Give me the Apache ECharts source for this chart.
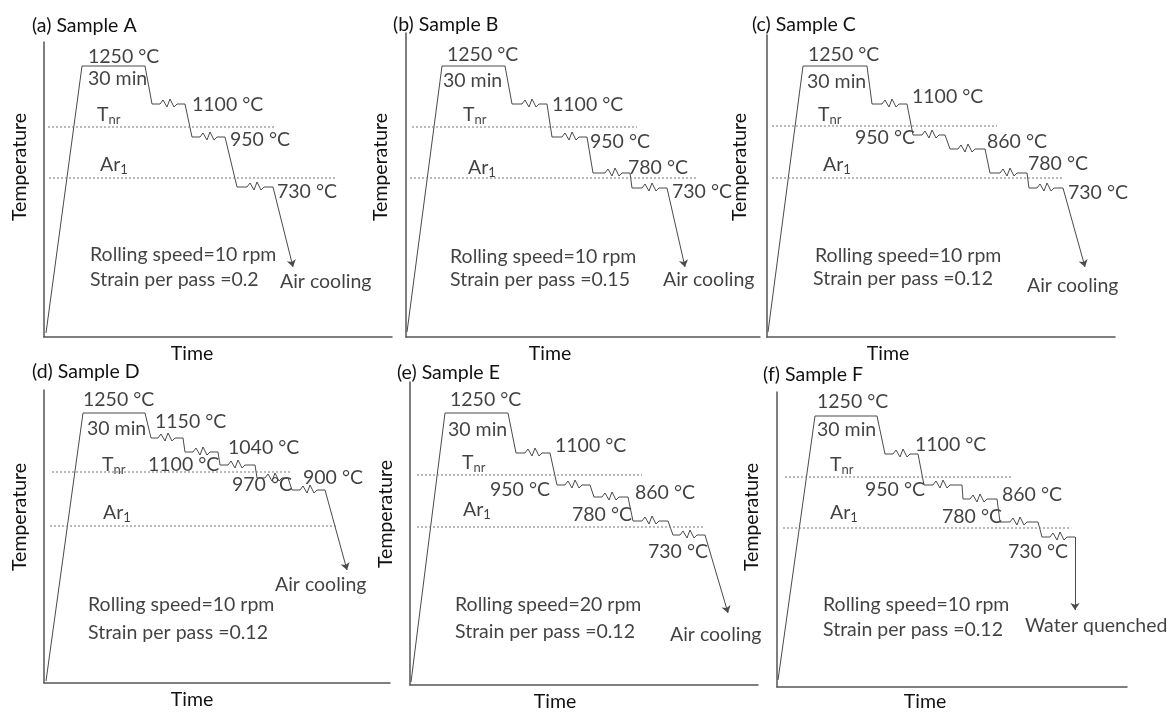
<!DOCTYPE html>
<html>
<head>
<meta charset="utf-8">
<script src="https://cdn.jsdelivr.net/npm/echarts@6/dist/echarts.min.js"></script>
<style>html,body{margin:0;padding:0;background:#fff}#chart{width:1170px;height:713px}</style>
</head>
<body>
<div id="chart"></div>
<script>
// ---------------- DATA (schematic time / temperature-level units) ----------------
const titles = ['(a) Sample A', '(b) Sample B', '(c) Sample C', '(d) Sample D', '(e) Sample E', '(f) Sample F'];

// Panel A
const stepsA  = [[2,4],[38,271],[101,271],[108,233],[141,233],[148,200],[181,200],[193,150],[229,150]];
const passesA = [[116,233],[156,200],[203,150]];
const coolA   = [[229,150],[249,70]];
const tnrA    = [[4,210],[231,210]];
const ar1A    = [[5,159],[293,159]];
const notesA  = [['1250 °C',44,280],['30 min',44,258],['1100 °C',148,232],['T{s|nr}',53,222],['950 °C',186,197],
                 ['Ar{s|1}',56,172],['730 °C',233,145],['Rolling speed=10 rpm',46,82],['Strain per pass =0.2',46,57],['Air cooling',236,55]];

// Panel B
const stepsB  = [[1,5],[36,271],[99,271],[106,233],[141,233],[146,200],[181,200],[187,164],[224,164],[226,149],[261,149]];
const passesB = [[116,233],[156,200],[199,164],[236,149]];
const coolB   = [[261,149],[279,70]];
const tnrB    = [[6,210],[231,210]];
const ar1B    = [[4,159],[292,159]];
const notesB  = [['1250 °C',41,282],['30 min',37,256],['1100 °C',146,232],['T{s|nr}',57,222],['950 °C',184,195],
                 ['Ar{s|1}',62,169],['780 °C',222,169],['730 °C',266,145],['Rolling speed=10 rpm',44,80],['Strain per pass =0.15',44,57],['Air cooling',257,57]];

// Panel C
const stepsC  = [[1,5],[36,271],[100,271],[105,233],[140,233],[146,202],[178,202],[183,188],[218,188],[223,164],[260,164],[262,149],[296,149]];
const passesC = [[115,233],[155,202],[191,188],[233,164],[270,149]];
const coolC   = [[296,149],[318,70]];
const tnrC    = [[5,211],[230,211]];
const ar1C    = [[5,159],[296,159]];
const notesC  = [['1250 °C',41,282],['30 min',40,255],['1100 °C',145,240],['T{s|nr}',51,222],['950 °C',88,199],['860 °C',220,195],
                 ['Ar{s|1}',56,172],['780 °C',261,173],['730 °C',301,144],['Rolling speed=10 rpm',48,81],['Strain per pass =0.12',46,58],['Air cooling',260,51]];

// Panel D
const stepsD  = [[2,2],[39,270],[101,270],[107,245],[139,245],[141,231],[174,231],[176,218],[211,218],[213,205],[244,205],[248,193],[281,193]];
const passesD = [[114,245],[149,231],[184,218],[221,205],[256,193]];
const coolD   = [[281,193],[303,113]];
const tnrD    = [[8,211],[246,211]];
const ar1D    = [[6,157],[294,157]];
const notesD  = [['1250 °C',39,283],['30 min',43,254],['1150 °C',111,261],['1100 °C',104,218],['1040 °C',184,235],['970 °C',188,198],
                 ['900 °C',259,205],['T{s|nr}',58,218],['Ar{s|1}',59,170],['Air cooling',231,98],['Rolling speed=10 rpm',44,78],['Strain per pass =0.12',44,50]];

// Panel E
const stepsE  = [[1,3],[35,272],[98,272],[106,232],[140,232],[147,200],[180,200],[184,188],[218,188],[223,164],[258,164],[263,150],[295,150]];
const passesE = [[115,232],[155,200],[192,188],[232,164],[270,150]];
const coolE   = [[295,150],[318,72]];
const tnrE    = [[7,210],[232,210]];
const ar1E    = [[7,158],[293,158]];
const notesE  = [['1250 °C',40,285],['30 min',38,255],['1100 °C',145,239],['T{s|nr}',52,222],['950 °C',80,195],['860 °C',225,192],
                 ['Ar{s|1}',53,175],['780 °C',162,170],['730 °C',238,133],['Rolling speed=20 rpm',45,80],['Strain per pass =0.12',45,53],['Air cooling',260,50]];

// Panel F
const stepsF  = [[1,7],[38,271],[100,271],[108,233],[141,233],[147,202],[185,202],[186,188],[220,188],[223,165],[261,165],[265,150],[298,150]];
const passesF = [[116,233],[156,202],[193,188],[233,165],[273,150]];
const coolF   = [[298,150],[298,77]];
const tnrF    = [[8,210],[235,210]];
const ar1F    = [[6,159],[293,159]];
const notesF  = [['1250 °C',40,285],['30 min',40,257],['1100 °C',138,242],['T{s|nr}',53,222],['950 °C',88,197],['860 °C',225,192],
                 ['Ar{s|1}',53,174],['780 °C',165,170],['730 °C',231,135],['Rolling speed=10 rpm',46,82],['Strain per pass =0.12',46,57],['Water quenched',248,61]];

// ---------------- LAYOUT / STYLE ----------------
const FONT = 'Lato';
const FS = 19.5;
const TXT = '#111';
const LINE = '#4a4a4a';
// axis origin (px), axis lengths
const layout = [
  {ox:44,  oy:337, w:348, h:295, title:[32,26],  time:[192,354], temp:[20,167]},
  {ox:406, oy:337, w:354, h:304, title:[393,25], time:[550,354], temp:[381,167]},
  {ox:767, oy:337, w:348, h:302, title:[752,25], time:[888,354], temp:[740,167]},
  {ox:44,  oy:683, w:346, h:293, title:[32,372], time:[192,700], temp:[20,517]},
  {ox:410, oy:685, w:348, h:303, title:[397,373],time:[555,702], temp:[386,514]},
  {ox:777, oy:687, w:350, h:295, title:[763,375],time:[925,702], temp:[752,517]}
];
const panels = [
  [stepsA, passesA, coolA, tnrA, ar1A, notesA],
  [stepsB, passesB, coolB, tnrB, ar1B, notesB],
  [stepsC, passesC, coolC, tnrC, ar1C, notesC],
  [stepsD, passesD, coolD, tnrD, ar1D, notesD],
  [stepsE, passesE, coolE, tnrE, ar1E, notesE],
  [stepsF, passesF, coolF, tnrF, ar1F, notesF]
];
// zig-zag glyph marking a rolling pass (offsets from pass start)
const ZIG = [[0,0],[3,4],[7,-3],[10,5],[14,-3],[17,0]];

function buildPath(steps, passes) {
  const out = [];
  for (let i = 0; i < steps.length; i++) {
    out.push(steps[i]);
    if (i + 1 < steps.length && steps[i][1] === steps[i+1][1]) {
      passes.filter(p => p[1] === steps[i][1] && p[0] > steps[i][0] && p[0] < steps[i+1][0])
            .forEach(p => ZIG.forEach(z => out.push([p[0] + z[0], p[1] + z[1]])));
    }
  }
  return out;
}

const grids = [], xAxes = [], yAxes = [], series = [], graphics = [];
const axisLine = {show:true, onZero:false, lineStyle:{color:'#555', width:1.5}};
layout.forEach((L, i) => {
  grids.push({left:L.ox, top:L.oy - L.h, width:L.w, height:L.h, containLabel:false});
  xAxes.push({type:'value', gridIndex:i, min:0, max:L.w, axisLine:axisLine, axisTick:{show:false},
              axisLabel:{show:false}, splitLine:{show:false}});
  yAxes.push({type:'value', gridIndex:i, min:0, max:L.h, axisLine:axisLine, axisTick:{show:false},
              axisLabel:{show:false}, splitLine:{show:false}});
  const [steps, passes, cool, tnr, ar1, notes] = panels[i];
  const base = {xAxisIndex:i, yAxisIndex:i, animation:false, silent:true};
  series.push(Object.assign({type:'line', data:buildPath(steps, passes), showSymbol:false,
    lineStyle:{color:LINE, width:1}}, base));
  series.push(Object.assign({type:'lines', coordinateSystem:'cartesian2d', data:[{coords:cool}],
    symbol:['none','arrow'], symbolSize:7, lineStyle:{color:LINE, width:1, opacity:1}}, base));
  [tnr, ar1].forEach(d => series.push(Object.assign({type:'line', data:d, showSymbol:false,
    lineStyle:{color:'#777', width:1, type:[2,2]}}, base)));
  series.push(Object.assign({type:'scatter', symbolSize:0, clip:false,
    data: notes.map(n => ({name:n[0], value:[n[1], n[2]]})),
    label:{show:true, position:'right', distance:0, formatter:p => p.name, color:TXT,
      fontFamily:FONT, fontSize:FS,
      rich:{s:{fontSize:13, fontFamily:FONT, color:TXT, padding:[10,0,0,0]}}}}, base));
  graphics.push({type:'text', x:L.title[0], y:L.title[1], style:{text:titles[i], fill:TXT, font:FS + 'px ' + FONT,
    textAlign:'left', textVerticalAlign:'middle'}});
  graphics.push({type:'text', x:L.time[0], y:L.time[1], style:{text:'Time', fill:TXT, font:FS + 'px ' + FONT,
    textAlign:'center', textVerticalAlign:'middle'}});
  graphics.push({type:'text', x:L.temp[0], y:L.temp[1], rotation:Math.PI/2, style:{text:'Temperature', fill:TXT,
    font:FS + 'px ' + FONT, textAlign:'center', textVerticalAlign:'middle'}});
});

const chart = echarts.init(document.getElementById('chart'), null, {renderer:'canvas'});
chart.setOption({
  animation:false,
  backgroundColor:'#fff',
  grid:grids, xAxis:xAxes, yAxis:yAxes, series:series, graphic:graphics
});
</script>
</body>
</html>
